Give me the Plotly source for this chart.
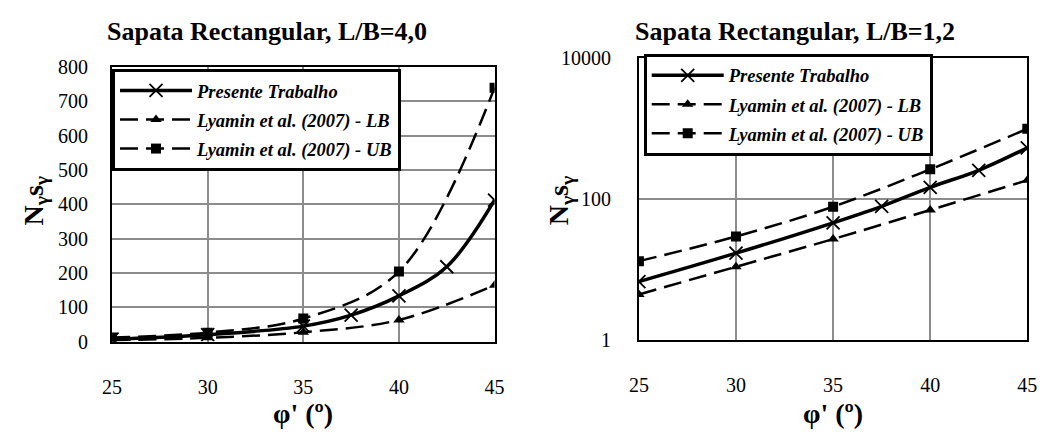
import plotly.graph_objects as go

# Left chart: L/B = 4,0
phi_pt_left = [25, 30, 35, 37.5, 40, 42.5, 45]
pt_left = [7, 20, 45, 77, 133, 218, 412]
phi_ly = [25, 30, 35, 40, 45]
lb_left = [4, 11, 27, 63, 164]
ub_left = [12, 26, 67, 204, 740]

# Right chart: L/B = 1,2
phi_pt_right = [25, 30, 35, 37.5, 40, 42.5, 45]
pt_right = [6.7, 17, 46, 79, 147, 257, 537]
lb_right = [4.4, 10.9, 27, 70, 185]
ub_right = [13.1, 29.4, 78, 265, 1000]

names = ["Presente Trabalho", "Lyamin et al. (2007) - LB", "Lyamin et al. (2007) - UB"]
titles = ["Sapata Rectangular, L/B=4,0", "Sapata Rectangular, L/B=1,2"]
x_ticks = [25, 30, 35, 40, 45]
y2_ticks = [1, 100, 10000]
y2_labels = ["1", "100", "10000"]

FONT = "Times New Roman, Liberation Serif, serif"
fig = go.Figure()

def add_set(xa, ya, leg, xp, yp, xl, ylb, yub):
    fig.add_trace(go.Scatter(x=xp, y=yp, name=names[0], mode="lines+markers", xaxis=xa, yaxis=ya,
                             legend=leg, legendgroup=leg + "a",
                             line=dict(color="black", width=3.5, shape="spline"),
                             marker=dict(symbol="x-thin", size=13, line=dict(color="black", width=1.8))))
    fig.add_trace(go.Scatter(x=xl, y=ylb, name=names[1], mode="lines+markers", xaxis=xa, yaxis=ya,
                             legend=leg, legendgroup=leg + "b",
                             line=dict(color="black", width=2.5, dash="18px,8px", shape="spline"),
                             marker=dict(symbol="triangle-up", size=10, color="black")))
    fig.add_trace(go.Scatter(x=xl, y=yub, name=names[2], mode="lines+markers", xaxis=xa, yaxis=ya,
                             legend=leg, legendgroup=leg + "c",
                             line=dict(color="black", width=2.5, dash="18px,8px", shape="spline"),
                             marker=dict(symbol="square", size=10, color="black")))

add_set("x", "y", "legend", phi_pt_left, pt_left, phi_ly, lb_left, ub_left)
add_set("x2", "y2", "legend2", phi_pt_right, pt_right, phi_ly, lb_right, ub_right)

axis_common = dict(showline=True, linecolor="black", linewidth=2, mirror=True,
                   showgrid=True, gridcolor="#8c8c8c", gridwidth=1.5, zeroline=False,
                   ticks="", tickfont=dict(family=FONT, size=20, color="black"))

legend_font = dict(family=FONT, size=18.5, color="black", style="italic", weight="bold")

fig.update_layout(
    width=1051, height=439, margin=dict(l=0, r=0, t=0, b=0),
    paper_bgcolor="white", plot_bgcolor="white",
    font=dict(family=FONT, color="black"),
    xaxis=dict(domain=[0.099, 0.470], range=[25, 45], tickvals=x_ticks, ticklabelstandoff=26, **axis_common),
    yaxis=dict(domain=[0.2073, 0.8656], range=[0, 800], dtick=100, ticklabelstandoff=18, **axis_common),
    xaxis2=dict(domain=[0.610, 0.9867], range=[25, 45], tickvals=x_ticks, anchor="y2", ticklabelstandoff=26, **axis_common),
    yaxis2=dict(domain=[0.2118, 0.8861], type="log", range=[0, 4], tickvals=y2_ticks, ticktext=y2_labels,
                anchor="x2", ticklabelstandoff=22, **axis_common),
    legend=dict(x=104/1051, y=1-61/439, xanchor="left", yanchor="top", bgcolor="white",
                bordercolor="black", borderwidth=3, itemwidth=72, tracegroupgap=2,
                font=legend_font),
    legend2=dict(x=646/1051, y=1-45/439, xanchor="left", yanchor="top", bgcolor="white",
                 bordercolor="black", borderwidth=3, itemwidth=72, tracegroupgap=2,
                 font=legend_font),
    showlegend=True,
)

ann = []
ann.append(dict(text="<b>" + titles[0] + "</b>", x=262/1051, y=1-22/439, size=26))
ann.append(dict(text="<b>" + titles[1] + "</b>", x=800/1051, y=1-22/439, size=26))
ann.append(dict(text="<b>φ' (º)</b>", x=299/1051, y=1-424/439, size=28))
ann.append(dict(text="<b>φ' (º)</b>", x=839/1051, y=1-424/439, size=28))
ann.append(dict(text="<b>N<sub>γ</sub>s<sub>γ</sub></b>", x=26/1051, y=1-200/439, size=28, rot=-90))
ann.append(dict(text="<b>N<sub>γ</sub>s<sub>γ</sub></b>", x=562/1051, y=1-200/439, size=28, rot=-90))
for a in ann:
    fig.add_annotation(text=a["text"], x=a["x"], y=a["y"], xref="paper", yref="paper",
                       xanchor="center", yanchor="middle", showarrow=False, textangle=a.get("rot", 0),
                       font=dict(family=FONT, size=a.get("size", 20), color="black"))

fig.write_html("out.html")
